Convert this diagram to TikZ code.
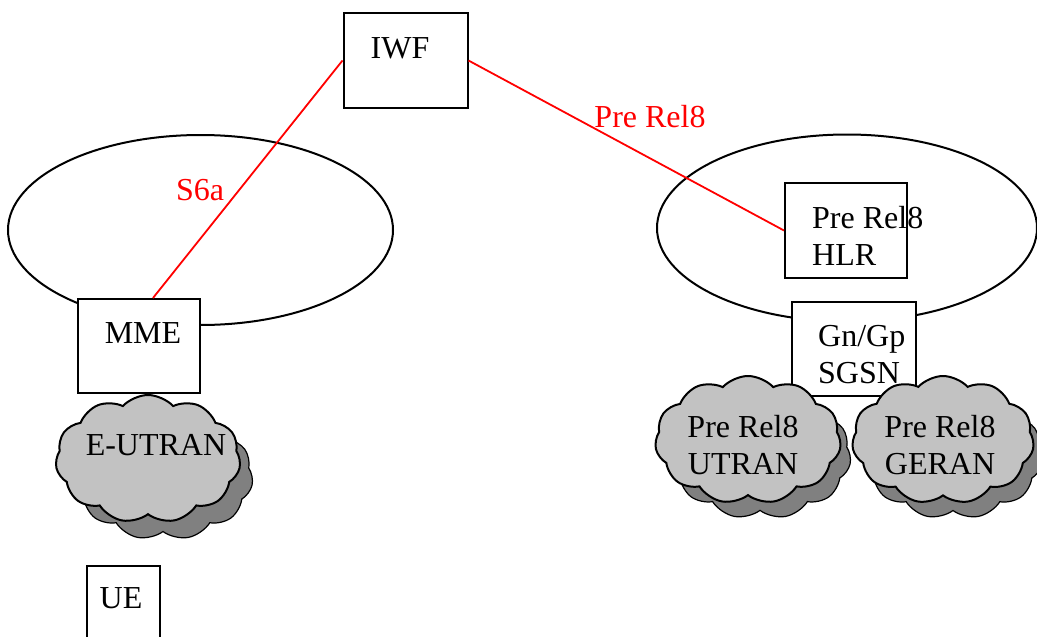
\documentclass[tikz,border=0pt]{standalone}
\usepackage{fontspec}
\setmainfont{Liberation Serif}
\usetikzlibrary{shapes.geometric,shapes.symbols,calc}
\begin{document}
\begin{tikzpicture}[x=1pt,y=-1pt,
  every node/.style={font=\fontsize{32}{37}\selectfont},
  box/.style={draw,line width=2pt,fill=white,inner sep=0pt},
  net/.style={draw,ellipse,line width=2pt,inner sep=0pt},
  front/.style={cloud,cloud puffs=11,cloud puff arc=95,aspect=1.4,draw,line width=2pt,fill=black!24,inner sep=0pt},
  shade/.style={cloud,cloud puffs=11,cloud puff arc=95,aspect=1.4,draw,line width=1.2pt,fill=black!50,inner sep=0pt},
  txt/.style={inner sep=0pt,align=left},
  link/.style={red,line width=1.8pt},
  lab/.style={red,inner sep=0pt}]
\useasboundingbox (0,0) rectangle (1037,637);
% networks
\node[net,minimum width=385,minimum height=190] (netL) at (200.5,230) {};
\node[net,minimum width=380,minimum height=187] (netR) at (847,228) {};
% boxes
\node[box,minimum width=124,minimum height=95] (iwf) at (405.5,60.5) {};
\node[txt] (iwft) at (400,48) {IWF};
\node[box,minimum width=122,minimum height=94] (mme) at (139,346) {};
\node[txt] (mmet) at (143,333) {MME};
\node[box,minimum width=73,minimum height=80] (ue) at (123.5,606) {};
\node[txt] (uet) at (121,598) {UE};
\node[box,minimum width=122,minimum height=95] (hlr) at (846,230.5) {};
\node[box,minimum width=124,minimum height=94] (sgsn) at (854,349) {};
% clouds
\node[shade,minimum width=180,minimum height=128] (eush) at (163,476) {};
\node[front,minimum width=185,minimum height=128] (eu) at (148,459) {};
\node[txt] (eut) at (156,445) {E-UTRAN};
\node[shade,minimum width=182,minimum height=128] (utsh) at (760,455) {};
\node[front,minimum width=186,minimum height=128] (ut) at (748,440) {};
\node[txt,align=center] (utt) at (743,445) {Pre Rel8\\UTRAN};
\node[shade,minimum width=180,minimum height=128] (gesh) at (953,455) {};
\node[front,minimum width=182,minimum height=128] (ge) at (943,440) {};
\node[txt,align=center] (get) at (940,445) {Pre Rel8\\GERAN};
% texts in boxes
\node[txt,anchor=west] (hlrt) at (812,236) {Pre Rel8\\HLR};
\node[txt,anchor=west] (sgsnt) at (818,355) {Gn/Gp\\SGSN};
% links
\coordinate (mmetop) at ($(mme.north)+(14,0)$);
\draw[link] (iwf.west) -- (mmetop);
\draw[link] (iwf.east) -- (hlr.west);
\node[lab] (s6a) at (200,190) {S6a};
\node[lab] (prerel) at (650,117) {Pre Rel8};
\end{tikzpicture}
\end{document}
